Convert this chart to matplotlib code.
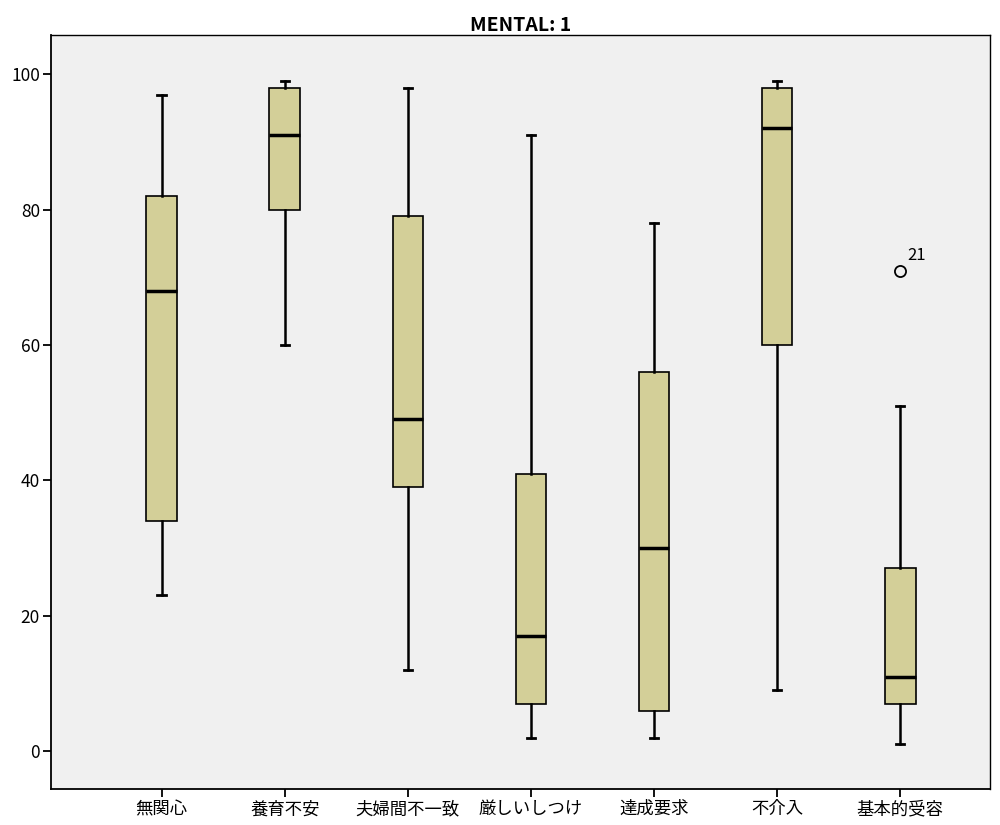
import matplotlib
matplotlib.use("Agg")
import matplotlib.pyplot as plt

plt.rcParams['font.family'] = ['Noto Sans CJK JP', 'DejaVu Sans']

# データ
categories = ["無関心", "養育不安", "夫婦間不一致", "厳しいしつけ", "達成要求", "不介入", "基本的受容"]
whisker_low = [23, 60, 12, 2, 2, 9, 1]
q1 = [34, 80, 39, 7, 6, 60, 7]
median = [68, 91, 49, 17, 30, 92, 11]
q3 = [82, 98, 79, 41, 56, 98, 27]
whisker_high = [97, 99, 98, 91, 78, 99, 51]
outliers = [[], [], [], [], [], [], [71]]
outlier_ids = [[], [], [], [], [], [], ["21"]]

stats = []
for i, name in enumerate(categories):
    stats.append({
        "label": name,
        "whislo": whisker_low[i],
        "q1": q1[i],
        "med": median[i],
        "q3": q3[i],
        "whishi": whisker_high[i],
        "fliers": outliers[i],
    })

fig = plt.figure(figsize=(10, 8.25), dpi=100)
ax = fig.add_axes([0.051, 0.0436, 0.939, 0.914])
ax.set_facecolor("#f0f0f0")

positions = list(range(1, len(categories) + 1))
ax.bxp(
    stats,
    positions=positions,
    widths=0.25,
    patch_artist=True,
    boxprops=dict(facecolor="#d3cf98", edgecolor="black", linewidth=1.2),
    medianprops=dict(color="black", linewidth=2.5),
    whiskerprops=dict(color="black", linewidth=1.8),
    capprops=dict(color="black", linewidth=2.0),
    capwidths=0.07,
    flierprops=dict(marker="o", markerfacecolor="none", markeredgecolor="black",
                    markersize=8, markeredgewidth=1.3),
)

for i, (vals, ids) in enumerate(zip(outliers, outlier_ids)):
    for v, t in zip(vals, ids):
        ax.annotate(t, (positions[i], v), xytext=(5, 5), textcoords="offset points",
                    fontsize=12, ha="left", va="bottom")

ax.set_xlim(0.1, 7.73)
ax.set_ylim(-5.6, 105.8)
ax.set_yticks([0, 20, 40, 60, 80, 100])
ax.set_xticks(positions)
ax.set_xticklabels(categories)
ax.tick_params(axis="both", labelsize=12.5, length=6, width=1.3, direction="out", pad=2)
for sp in ["left", "bottom"]:
    ax.spines[sp].set_linewidth(1.3)
for sp in ["top", "right"]:
    ax.spines[sp].set_linewidth(1.0)

ax.set_title("MENTAL: 1", fontsize=14, fontweight="bold", pad=3)

fig.savefig("out.png", dpi=100)
